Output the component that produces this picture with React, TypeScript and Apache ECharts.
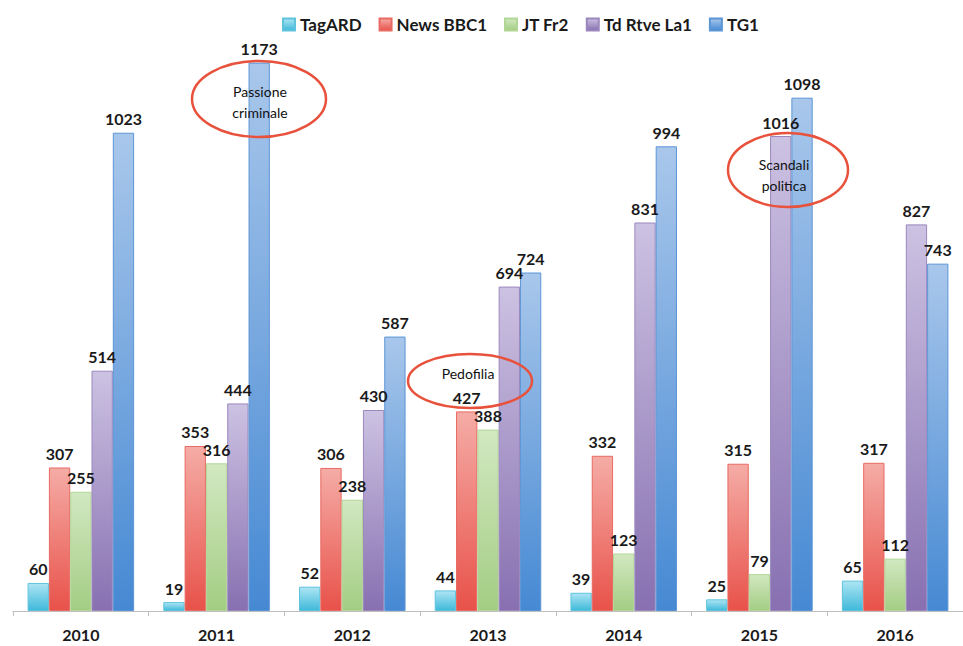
import React, { useEffect, useRef } from "react";
import * as echarts from "echarts";

const years = ["2010", "2011", "2012", "2013", "2014", "2015", "2016"];
const seriesNames = ["TagARD", "News BBC1", "JT Fr2", "Td Rtve La1", "TG1"];
const tagARD = [60, 19, 52, 44, 39, 25, 65];
const newsBBC1 = [307, 353, 306, 427, 332, 315, 317];
const jtFr2 = [255, 316, 238, 388, 123, 79, 112];
const tdRtveLa1 = [514, 444, 430, 694, 831, 1016, 827];
const tg1 = [1023, 1173, 587, 724, 994, 1098, 743];
const seriesValues = [tagARD, newsBBC1, jtFr2, tdRtveLa1, tg1];

const gradTop = ["#ade5f3", "#f5aca6", "#d2e8c1", "#ccc2e2", "#a9c7eb"];
const gradBottom = ["#3fb9da", "#e8524a", "#a3cd83", "#8870b1", "#4689d3"];
const borders = ["#5fc3de", "#e86a62", "#b2d696", "#9b87be", "#5c95d6"];

const annotations = [
  { cx: 259, cy: 99, rx: 67, ry: 38, text: "Passione\ncriminale", tx: 260, ty: 102 },
  { cx: 470, cy: 381, rx: 62, ry: 27, text: "Pedofilia", tx: 468, ty: 373 },
  { cx: 788, cy: 170, rx: 60, ry: 37, text: "Scandali\npolitica", tx: 784, ty: 175 },
];

export default function App() {
  const ref = useRef<HTMLDivElement>(null);
  useEffect(() => {
    document.body.style.margin = "0";
    const chart = echarts.init(ref.current!, null, { renderer: "svg" });
    const font = "Lato, 'Open Sans', sans-serif";
    chart.setOption({
      animation: false,
      backgroundColor: "#ffffff",
      textStyle: { fontFamily: font },
      legend: {
        data: seriesNames,
        left: 277,
        top: 11,
        itemWidth: 12,
        itemHeight: 12,
        itemGap: 17,
        icon: "rect",
        textStyle: { fontFamily: font, fontWeight: "bold", fontSize: 17, color: "#1a1a1a" },
      },
      grid: { left: 13, width: 959, top: 50, bottom: 35, containLabel: false },
      xAxis: {
        type: "category",
        data: years,
        axisLine: { lineStyle: { color: "#bfbfbf", width: 1 } },
        axisTick: { show: true, length: 5, lineStyle: { color: "#bfbfbf" } },
        axisLabel: { margin: 15, fontFamily: font, fontWeight: "bold", fontSize: 16, color: "#1a1a1a" },
      },
      yAxis: { type: "value", min: 0, max: 1200, show: false, splitLine: { show: false } },
      series: seriesNames.map((name, i) => ({
        name,
        type: "bar",
        data: seriesValues[i],
        barGap: "0%",
        barCategoryGap: "21.5%",
        itemStyle: {
          color: new echarts.graphic.LinearGradient(0, 0, 0, 1, [
            { offset: 0, color: gradTop[i] },
            { offset: 1, color: gradBottom[i] },
          ]),
          borderColor: borders[i],
          borderWidth: 1,
        },
        label: {
          show: true,
          position: "top",
          distance: 6,
          fontFamily: font,
          fontWeight: "bold",
          fontSize: 16,
          color: "#1a1a1a",
        },
      })),
      graphic: [
        ...annotations.map((a) => ({
          type: "ellipse",
          z: 100,
          shape: { cx: a.cx, cy: a.cy, rx: a.rx, ry: a.ry },
          style: { fill: "none", stroke: "#e8523c", lineWidth: 2.5 },
        })),
        ...annotations.map((a) => ({
          type: "text",
          z: 101,
          x: a.tx,
          y: a.ty,
          style: {
            text: a.text,
            font: `14px ${font}`,
            fill: "#111111",
            textAlign: "center",
            textVerticalAlign: "middle",
            align: "center",
            verticalAlign: "middle",
            lineHeight: 21,
          },
        })),
      ],
    });
    return () => chart.dispose();
  }, []);
  return (
    <div
      ref={ref}
      style={{ position: "absolute", left: 0, top: 0, width: 963, height: 646 }}
    />
  );
}
